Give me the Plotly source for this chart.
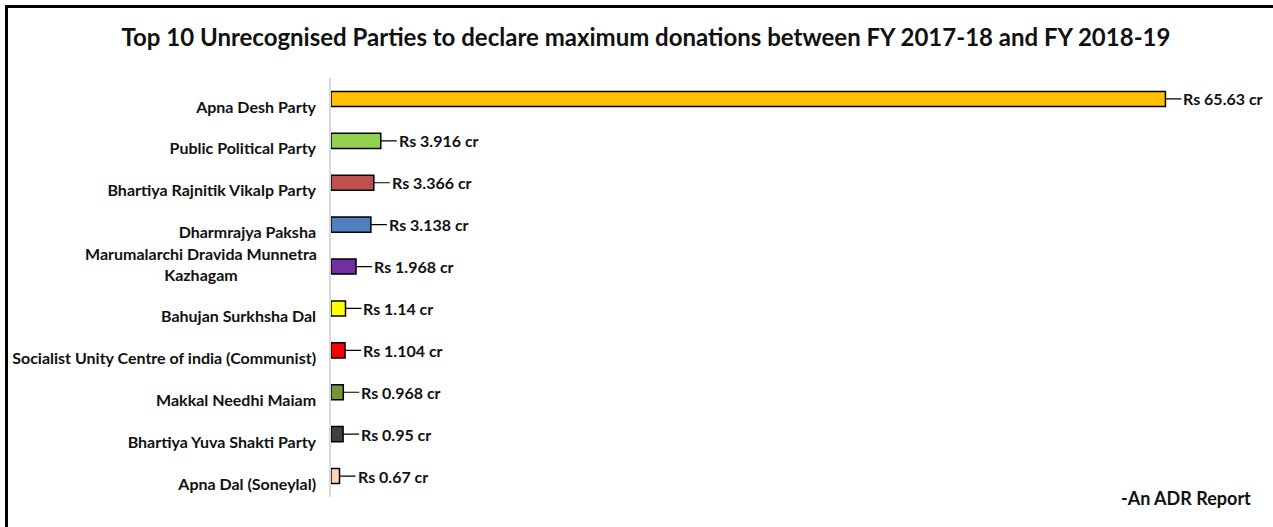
import plotly.graph_objects as go

parties = [
    "Apna Desh Party",
    "Public Political Party",
    "Bhartiya Rajnitik Vikalp Party",
    "Dharmrajya Paksha",
    "Marumalarchi Dravida Munnetra<br>Kazhagam",
    "Bahujan Surkhsha Dal",
    "Socialist Unity Centre of india (Communist)",
    "Makkal Needhi Maiam",
    "Bhartiya Yuva Shakti Party",
    "Apna Dal (Soneylal)",
]
donations_cr = [65.63, 3.916, 3.366, 3.138, 1.968, 1.14, 1.104, 0.968, 0.95, 0.67]
value_labels = ["Rs 65.63 cr", "Rs 3.916 cr", "Rs 3.366 cr", "Rs 3.138 cr", "Rs 1.968 cr",
                "Rs 1.14 cr", "Rs 1.104 cr", "Rs 0.968 cr", "Rs 0.95 cr", "Rs 0.67 cr"]
bar_colors = ["#FFC000", "#92D050", "#C0504D", "#4F81BD", "#7030A0",
              "#FFFF00", "#FF0000", "#77933C", "#404040", "#FBD5B5"]

title_text = "Top 10 Unrecognised Parties to declare maximum donations between FY 2017-18 and FY 2018-19"
footer_text = "-An ADR Report"

W, H = 1273, 527
ML, MR, MT, MB = 331, 52, 78, 30
PW = W - ML - MR
PH = H - MT - MB
FONT = "Lato"
TXT = "#111111"

def px_x(p):
    return (p - ML) / PW

def px_y(p):
    return (H - MB - p) / PH

idx = list(range(len(parties)))
ticktext = ["" if "<br>" in p else p for p in parties]

fig = go.Figure()
fig.add_trace(go.Bar(
    x=donations_cr, y=idx, orientation="h",
    width=0.36,
    marker=dict(color=bar_colors, line=dict(color="#000000", width=1.5)),
    hoverinfo="x+y",
    showlegend=False,
))

annotations = []
for i, (v, lab) in enumerate(zip(donations_cr, value_labels)):
    annotations.append(dict(
        x=v, y=i, xref="x", yref="y", text=lab,
        showarrow=True, arrowhead=0, arrowwidth=1.2, arrowcolor="#000000",
        ax=16, ay=0, axref="pixel", ayref="pixel",
        xanchor="left", yanchor="middle", standoff=0, startstandoff=0,
        font=dict(family=FONT, size=16, color=TXT, weight="bold"),
    ))

for i, p in enumerate(parties):
    if "<br>" in p:
        annotations.append(dict(
            x=px_x(319), y=i, xref="paper", yref="y", text=p,
            showarrow=False, xanchor="right", yanchor="middle", align="center",
            yshift=3,
            font=dict(family=FONT, size=16, color=TXT, weight="bold"),
        ))

annotations.append(dict(
    x=px_x(1253), y=px_y(498), xref="paper", yref="paper", text=footer_text,
    showarrow=False, xanchor="right", yanchor="middle",
    font=dict(family=FONT, size=18, color=TXT, weight="bold"),
))

shapes = [
    dict(type="line", xref="paper", yref="paper", x0=px_x(5), x1=px_x(W + 5),
         y0=px_y(6.5), y1=px_y(6.5), line=dict(color="#000000", width=3)),
    dict(type="line", xref="paper", yref="paper", x0=px_x(6.5), x1=px_x(6.5),
         y0=px_y(5), y1=px_y(H + 5), line=dict(color="#000000", width=3)),
]

fig.update_layout(
    template="none",
    width=W, height=H,
    margin=dict(l=ML, r=MR, t=MT, b=MB, pad=0),
    paper_bgcolor="#ffffff", plot_bgcolor="#ffffff",
    font=dict(family=FONT, color=TXT),
    title=dict(text=title_text, x=646 / W, xanchor="center", xref="container",
               y=1 - 38 / H, yanchor="middle", yref="container",
               font=dict(family=FONT, size=24, color=TXT, weight="bold")),
    xaxis=dict(range=[0, 70], visible=False, showgrid=False, zeroline=False,
               automargin=False),
    yaxis=dict(tickvals=idx, ticktext=ticktext, range=[len(parties) - 0.5, -0.5],
               showgrid=False, zeroline=False, showline=True, linecolor="#D9D9D9",
               linewidth=1.5, ticks="", ticklabelstandoff=10, ticklabelshift=-8,
               automargin=False,
               tickfont=dict(family=FONT, size=16, color=TXT, weight="bold")),
    annotations=annotations,
    shapes=shapes,
    bargap=0.6,
)

fig.write_html("out.html", config={"displayModeBar": False},
               post_script="document.body.style.margin='0';")
